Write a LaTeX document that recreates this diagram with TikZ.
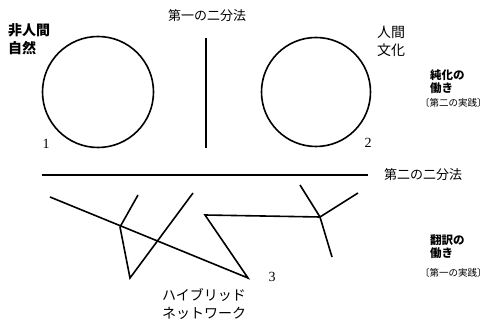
\documentclass[tikz,border=0pt]{standalone}
\usepackage{fontspec}
\setmainfont{Liberation Serif}
\newfontfamily\cjk{Noto Sans CJK JP}
\begin{document}
\begin{tikzpicture}[x=1pt,y=-1pt,
  ln/.style={line width=1.6pt, black},
  lbl/.style={font=\cjk\fontsize{13}{18}\selectfont, inner sep=0pt, align=left},
  blbl/.style={font=\cjk\bfseries\fontsize{14}{18}\selectfont, inner sep=0pt, align=left},
  mlbl/.style={font=\cjk\fontsize{14}{18}\selectfont, inner sep=0pt, align=left},
  sm/.style={font=\cjk\bfseries\fontsize{11.5}{13}\selectfont, inner sep=0pt, align=left},
  tiny/.style={font=\cjk\fontsize{9.5}{12}\selectfont, inner sep=0pt},
  num/.style={font=\fontsize{14}{14}\selectfont, inner sep=0pt}]
\useasboundingbox (0,0) rectangle (491,320);
% circles
\node[ln, draw, circle, minimum size=111pt, inner sep=0pt] (c1) at (98,92) {};
\node[ln, draw, circle, minimum size=109pt, inner sep=0pt] (c2) at (316,92) {};
% first dichotomy
\coordinate (v1) at (206,38);
\coordinate (v2) at (206,148);
\draw[ln] (v1) -- (v2);
\node[lbl] (d1) at (207,16) {第一の二分法};
% second dichotomy
\coordinate (h1) at (42,175);
\coordinate (h2) at (368,175);
\draw[ln] (h1) -- (h2);
\node[lbl, anchor=west] (d2) at (384,175) {第二の二分法};
% labels
\node[blbl, anchor=west] (nat) at (8,39) {非人間\\自然};
\node[mlbl, anchor=west] (cul) at (377,41) {人間\\文化};
\node[num] (n1) at (46,144) {1};
\node[num] (n2) at (368,143) {2};
\node[num] (n3) at (272,277) {3};
\node[sm, anchor=west] (pur) at (430,82) {純化の\\働き};
\node[tiny, anchor=west] (pur2) at (420,103) {〔第二の実践〕};
\node[sm, anchor=west] (tra) at (430,247) {翻訳の\\働き};
\node[tiny, anchor=west] (tra2) at (420,273) {〔第一の実践〕};
\node[mlbl, anchor=west] (hyb) at (162,304) {ハイブリッド\\ネットワーク};
% network
\coordinate (a) at (50,197);
\coordinate (j1) at (120,227);
\coordinate (b) at (138,195);
\coordinate (c) at (130,278);
\coordinate (d) at (193,193);
\coordinate (e) at (248,278);
\coordinate (f) at (205,215);
\coordinate (j2) at (320,217);
\coordinate (g) at (300,185);
\coordinate (h) at (358,193);
\coordinate (k) at (332,257);
\draw[ln, line join=miter] (a) -- (e) -- (f) -- (j2);
\draw[ln] (j1) -- (b);
\draw[ln, line join=miter] (j1) -- (c) -- (d);
\draw[ln] (g) -- (j2) -- (h);
\draw[ln] (j2) -- (k);
\end{tikzpicture}
\end{document}
